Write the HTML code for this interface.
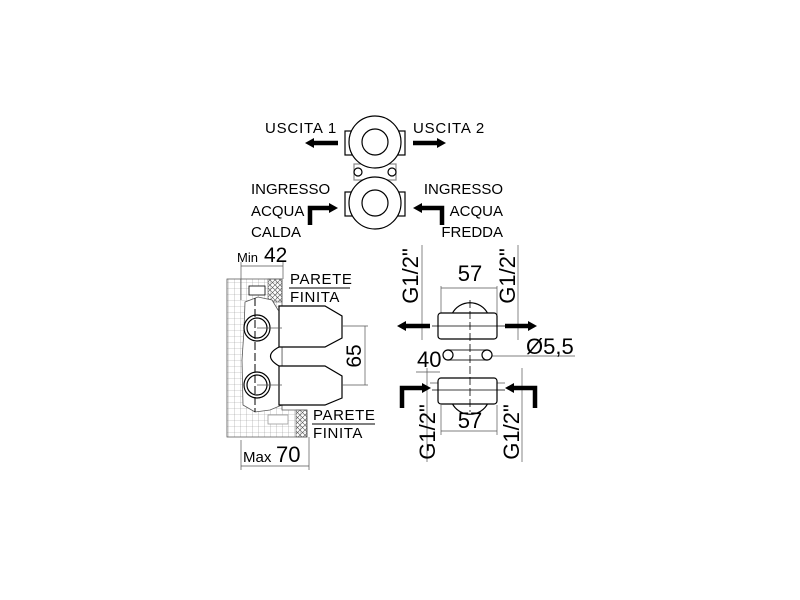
<!DOCTYPE html>
<html><head><style>html,body{margin:0;padding:0;background:#fff}svg{display:block}text{font-family:"Liberation Sans",sans-serif;fill:#000}</style></head>
<body>
<svg width="800" height="600" viewBox="0 0 800 600" xmlns="http://www.w3.org/2000/svg">
<defs>
<pattern id="grid" width="6" height="6" patternUnits="userSpaceOnUse"><path d="M6 0H0V6" fill="none" stroke="#999" stroke-width="0.6"/></pattern>
<pattern id="hatch" width="5" height="5" patternUnits="userSpaceOnUse"><path d="M0 0L5 5M5 0L0 5" stroke="#555" stroke-width="0.6"/></pattern>
</defs>
<!-- TOP -->
<g font-size="15">
<text x="265" y="133" letter-spacing="0.8">USCITA 1</text>
<text x="413" y="133" letter-spacing="0.8">USCITA 2</text>
<text x="251" y="194">INGRESSO</text>
<text x="251" y="216">ACQUA</text>
<text x="251" y="237">CALDA</text>
<text x="503" y="194" text-anchor="end">INGRESSO</text>
<text x="503" y="216" text-anchor="end">ACQUA</text>
<text x="503" y="237" text-anchor="end">FREDDA</text>
</g>
<g stroke="#000" stroke-width="4.5" fill="none">
<path d="M338 143H312"/><path d="M413 143H438"/>
<path d="M310 225V208H330"/><path d="M442 225V208H421"/>
</g>
<g fill="#000">
<path d="M305 143L314 138V148Z"/><path d="M446 143L437 138V148Z"/>
<path d="M338 208L329 203V213Z"/><path d="M413 208L422 203V213Z"/>
</g>
<g stroke="#000" stroke-width="1.2" fill="#fff">
<rect x="345" y="131" width="8" height="24"/><rect x="397" y="131" width="8" height="24"/>
<rect x="345" y="192" width="8" height="24"/><rect x="397" y="192" width="8" height="24"/>
<rect x="354" y="164" width="42" height="16" stroke="#888"/>
<circle cx="358" cy="172" r="4"/><circle cx="392" cy="172" r="4"/>
<circle cx="375" cy="142" r="26"/><circle cx="375" cy="142" r="13"/>
<circle cx="375" cy="203" r="26"/><circle cx="375" cy="203" r="13"/>
</g>
<!-- LEFT DRAWING -->
<path d="M227 279H282V410H307V437H227Z" fill="url(#grid)" stroke="#555" stroke-width="0.8"/>
<rect x="268" y="279" width="14" height="23" fill="url(#hatch)" stroke="#555" stroke-width="0.6"/>
<rect x="296" y="410" width="11" height="27" fill="url(#hatch)" stroke="#555" stroke-width="0.6"/>
<path d="M245 302L258 297L272 300L278 310L282 312V405L270 410L255 412L243 405L242 360L244 330Z" fill="#fff" stroke="#555" stroke-width="0.8"/>
<rect x="249" y="286" width="16" height="9" fill="#fff" stroke="#000" stroke-width="0.8"/>
<rect x="268" y="415" width="20" height="9" fill="#fff" stroke="#999" stroke-width="0.8"/>
<g stroke="#000" stroke-width="1.2" fill="#fff">
<path d="M279 306H325L342 316V338L325 347H279Z"/>
<path d="M279 366H325L342 376V398L325 405H279Z"/>
<path d="M279 347Q262 356 279 366" fill="none"/>
<circle cx="257" cy="328" r="13"/><circle cx="257" cy="328" r="10"/>
<circle cx="257" cy="385" r="13"/><circle cx="257" cy="385" r="10"/>
</g>
<path d="M255 298V412" stroke="#000" stroke-dasharray="8 3" stroke-width="1"/>
<g stroke="#555" stroke-width="0.7">
<path d="M241 266H283M241 262V300M283 262V279"/>
<path d="M241 466H309M241 440V470M309 437V470"/>
<path d="M342 326H368M342 385H368M365 326V385"/>
<path d="M257 328H282M257 385H282"/>
</g>
<text x="237" y="262" font-size="13">Min</text><text x="264" y="262" font-size="21">42</text>
<text x="243" y="462" font-size="15">Max</text><text x="276" y="462" font-size="22">70</text>
<text transform="translate(361,356) rotate(-90)" font-size="21" text-anchor="middle">65</text>
<g font-size="15" letter-spacing="0.6"><text x="290" y="284">PARETE</text><text x="290" y="302">FINITA</text>
<text x="313" y="420">PARETE</text><text x="313" y="438">FINITA</text></g>
<path d="M289 288H350M312 424H375" stroke="#000" stroke-width="1"/>
<!-- RIGHT DRAWING -->
<g stroke="#555" stroke-width="0.7" fill="none">
<path d="M422 245V340M518 245V340M427 368V462M522 368V462"/>
<path d="M441 286V315M497 286V315M441 288H497"/>
<path d="M441 405V435M497 405V435M441 431H497"/>
<path d="M490 356H575M416 372H440M430 383H505"/>
</g>
<g stroke="#000" stroke-width="1.2" fill="#fff">
<path d="M452 314A20 20 0 0 1 488 314Z"/>
<path d="M452 403A20 20 0 0 0 488 403Z"/>
<rect x="438" y="313" width="59" height="26" rx="3"/>
<rect x="438" y="378" width="59" height="26" rx="3"/>
<path d="M448 350H487V360H448Z" stroke="#555"/>
<circle cx="448" cy="355" r="5"/><circle cx="487" cy="355" r="5"/>
</g>
<g stroke="#000" stroke-width="0.8">
<path d="M470 300V412" stroke-dasharray="8 3"/>
<path d="M432 326H505M432 390H505"/>
</g>
<g stroke="#000" stroke-width="4.5" fill="none">
<path d="M430 326H405"/><path d="M505 326H528"/>
<path d="M402 408V388H423"/><path d="M535 408V388H514"/>
</g>
<g fill="#000">
<path d="M397 326L406 321V331Z"/><path d="M537 326L528 321V331Z"/>
<path d="M431 388L422 383V393Z"/><path d="M505 388L514 383V393Z"/>
</g>
<g font-size="22">
<text x="470" y="281" text-anchor="middle">57</text>
<text x="470" y="428" text-anchor="middle">57</text>
<text x="526" y="354">Ø5,5</text>
<text x="417" y="367">40</text>
<text transform="translate(418,276) rotate(-90)" text-anchor="middle">G1/2"</text>
<text transform="translate(515,276) rotate(-90)" text-anchor="middle">G1/2"</text>
<text transform="translate(435,432) rotate(-90)" text-anchor="middle">G1/2"</text>
<text transform="translate(519,432) rotate(-90)" text-anchor="middle">G1/2"</text>
</g>
</svg>
</body></html>
